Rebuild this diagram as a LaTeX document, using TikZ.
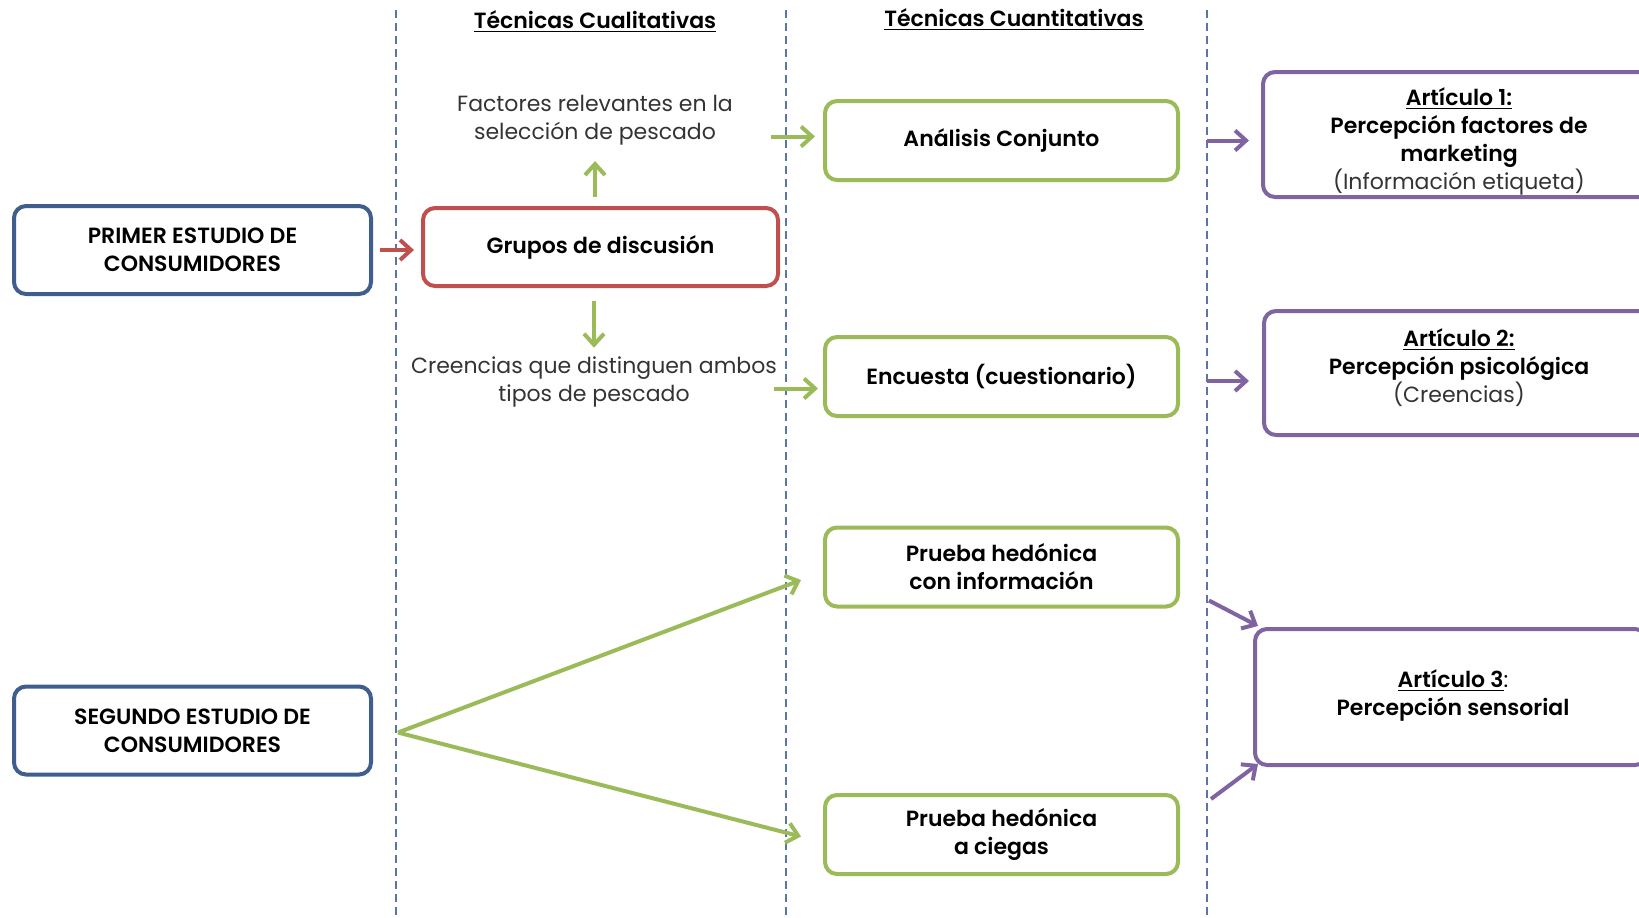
\documentclass[tikz,border=0pt]{standalone}
\usepackage{fontspec}
\setmainfont{Poppins}[BoldFont={Poppins SemiBold}]
\usetikzlibrary{arrows.meta}
\definecolor{estudio}{HTML}{3F5E8E}
\definecolor{grupo}{HTML}{C0504D}
\definecolor{cuanti}{HTML}{9BBB59}
\definecolor{articulo}{HTML}{8064A2}
\definecolor{guia}{HTML}{5A76A8}
\definecolor{gris}{HTML}{333333}

\begin{document}
\begin{tikzpicture}[x=0.5pt,y=-0.5pt,
  caja/.style={draw, line width=2pt, rounded corners=6pt, fill=white,
    align=center, font=\fontsize{11}{14}\selectfont\bfseries},
  estudiobox/.style={caja, draw=estudio, minimum width=178.5pt, minimum height=44pt},
  grupobox/.style={caja, draw=grupo, minimum width=177.5pt, minimum height=39pt},
  cuantibox/.style={caja, draw=cuanti, minimum width=176.5pt, minimum height=39.5pt},
  articulobox/.style={caja, draw=articulo, minimum width=196pt},
  articulotexto/.style={align=center, font=\fontsize{11}{14}\selectfont\bfseries},
  nota/.style={align=center, text=gris, font=\fontsize{11}{14}\selectfont},
  flecha/.style={line width=2pt, -{Straight Barb[length=5.5pt,width=10pt,line width=2pt]}},
  guialinea/.style={draw=guia, line width=0.6pt, dash pattern=on 4pt off 2.5pt}]
\useasboundingbox (0,0) rectangle (1639,917);

% columnas
\draw[guialinea] (396,10) -- (396,917);
\draw[guialinea] (786,10) -- (786,917);
\draw[guialinea] (1207,10) -- (1207,917);

% titulos
\node (cuali) at (595,22) {\fontsize{11}{14}\selectfont\bfseries\underline{Técnicas Cualitativas}};
\node (cuanti) at (1014,20) {\fontsize{11}{14}\selectfont\bfseries\underline{Técnicas Cuantitativas}};

% primer estudio
\node[estudiobox] (primer) at (192.5,250) {PRIMER ESTUDIO DE\\CONSUMIDORES};
\node[grupobox] (grupos) at (600.5,247) {Grupos de discusión};
\node[nota] (factores) at (595,120) {Factores relevantes en la\\selección de pescado};
\node[nota] (creencias) at (594,382) {Creencias que distinguen ambos\\tipos de pescado};

% cuantitativas
\node[cuantibox] (analisis) at (1001.5,140.5) {Análisis Conjunto};
\node[cuantibox] (encuesta) at (1001.5,376.5) {Encuesta (cuestionario)};
\node[cuantibox] (info) at (1001.5,567) {Prueba hedónica\\con información};
\node[cuantibox] (ciegas) at (1001.5,834.5) {Prueba hedónica\\a ciegas};

% segundo estudio
\node[estudiobox] (segundo) at (192.5,730.5) {SEGUNDO ESTUDIO DE\\CONSUMIDORES};

% articulos
\node[articulobox, minimum height=62.5pt] (art1) at (1459,134.5) {};
\node[articulotexto] (art1txt) at (1459,141)
  {\underline{Artículo 1:}\\Percepción factores de\\marketing\\{\mdseries\color{gris}(Información etiqueta)}};
\node[articulobox, minimum height=62pt] (art2) at (1460,373) {};
\node[articulotexto] (art2txt) at (1459,368)
  {\underline{Artículo 2:}\\Percepción psicológica\\{\mdseries\color{gris}(Creencias)}};
\node[articulobox, minimum height=68pt] (art3) at (1451,697) {};
\node[articulotexto] (art3txt) at (1453,695)
  {\underline{Artículo 3}{\mdseries:}\\Percepción sensorial};

% flechas
\draw[flecha, grupo, shorten <=3.5pt, shorten >=3.5pt] (primer.east) -- (primer.east -| grupos.west);
\draw[flecha, cuanti, shorten <=4.5pt, shorten >=4.5pt] (grupos.north -| factores.south) -- (factores.south);
\draw[flecha, cuanti, shorten <=6.5pt, shorten >=1pt] (grupos.south -| creencias.north) -- (creencias.north);
\draw[flecha, cuanti] ([shift={(-26pt,2pt)}]analisis.west) -- ([shift={(-4pt,2pt)}]analisis.west);
\draw[flecha, cuanti] ([shift={(-24.5pt,-6pt)}]encuesta.west) -- ([shift={(-2.5pt,-6pt)}]encuesta.west);

\draw[flecha, articulo] ([shift={(-27pt,-3pt)}]art1.west) -- ([shift={(-6pt,-3pt)}]art1.west);
\draw[flecha, articulo] ([shift={(-27.5pt,-4pt)}]art2.west) -- ([shift={(-6.5pt,-4pt)}]art2.west);
\draw[flecha, articulo] ([shift={(14.5pt,4pt)}]info.south east) -- ([shift={(2.5pt,0.5pt)}]art3.north west);
\draw[flecha, articulo] ([shift={(15.5pt,-3pt)}]ciegas.north east) -- ([shift={(2.5pt,1.5pt)}]art3.south west);

\coordinate (bifurca) at ([shift={(12.5pt,-1pt)}]segundo.east);
\draw[flecha, cuanti] (bifurca) -- ([shift={(-11pt,-6.5pt)}]info.west);
\draw[flecha, cuanti] (bifurca) -- ([shift={(-11pt,-1pt)}]ciegas.west);
\end{tikzpicture}
\end{document}
